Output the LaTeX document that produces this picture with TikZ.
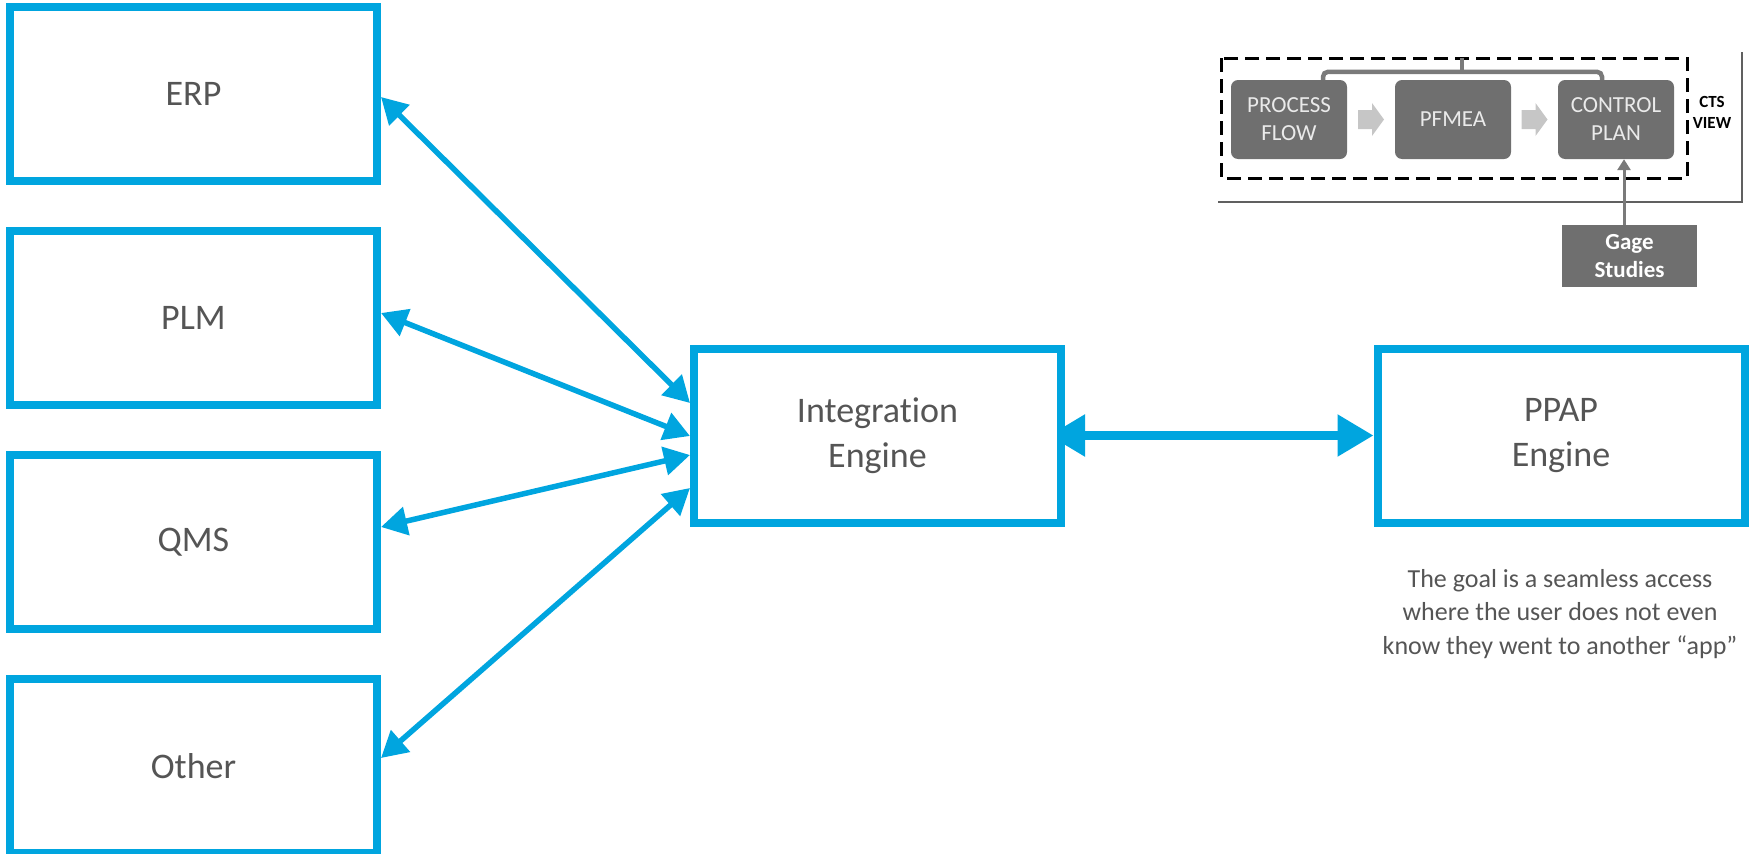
\documentclass[tikz,border=0pt]{standalone}
\usepackage{fontspec}
\setmainfont{Carlito}[Ligatures=NoCommon]
\usetikzlibrary{arrows.meta,calc,backgrounds}

\definecolor{sysblue}{HTML}{00A5DF}
\definecolor{labelgray}{HTML}{555555}
\definecolor{tilegray}{HTML}{6F6F6F}
\definecolor{tiletext}{HTML}{EAEAEA}
\definecolor{chevron}{HTML}{C6C6C6}
\definecolor{framegray}{HTML}{606060}
\definecolor{bracketgray}{HTML}{7A7A7A}

\begin{document}
\begin{tikzpicture}[x=1pt,y=-1pt,
  sysbox/.style={draw=sysblue, line width=8pt, fill=white,
    minimum width=367pt, minimum height=174pt, inner sep=0pt,
    text=labelgray, font=\fontsize{36}{45}\selectfont, align=center},
  link/.style={draw=sysblue, line width=5.5pt,
    {Triangle[length=26pt,width=28pt]}-{Triangle[length=26pt,width=28pt]}},
  mainlink/.style={draw=sysblue, line width=8.5pt,
    {Triangle[length=36pt,width=40pt]}-{Triangle[length=36pt,width=40pt]}},
  tile/.style={fill=tilegray, rounded corners=7pt,
    minimum width=116pt, minimum height=79pt, inner sep=0pt,
    text=tiletext, font=\fontsize{23}{28}\selectfont, align=center},
  gagebox/.style={fill=tilegray, minimum width=135pt, minimum height=62pt,
    inner sep=0pt, text=white, font=\bfseries\fontsize{23}{28}\selectfont,
    align=center},
  pics/chev/.style={code={
    \fill[chevron] (-13,-9.5) -- (1,-9.5) -- (1,-16.5) -- (13,0)
      -- (1,16.5) -- (1,9.5) -- (-13,9.5) -- cycle;}}
]
\useasboundingbox (0,0) rectangle (1754,854);

% source systems
\node[sysbox] (erp) at (193.5,94)  {ERP};
\node[sysbox] (plm) at (193.5,318) {PLM};
\node[sysbox] (qms) at (193.5,542) {QMS};
\node[sysbox] (oth) at (193.5,766) {Other};

% engines
\node[sysbox] (int)  at (877.5,435.5) {Integration\\Engine};
\node[sysbox] (ppap) at (1561,435.5)  {PPAP\\Engine};

% connectors sit behind the boxes
\begin{scope}[on background layer]
  \draw[link] ($(erp.east)+(0,3)$)   -- ($(int.west)+(0,-32.5)$);
  \draw[link] ($(plm.east)+(0,-5)$)  -- ($(int.west)+(0,0.5)$);
  \draw[link] ($(qms.east)+(0,-15)$) -- ($(int.west)+(0,19.5)$);
  \draw[link] ($(oth.east)+(0,-8)$)  -- ($(int.west)+(0,52.5)$);
  \draw[mainlink] ($(int.east)+(-16,0)$) -- (ppap.west);
\end{scope}

% note under the PPAP engine
\node[text=labelgray, font=\fontsize{26}{33.5}\selectfont, align=center]
  (goal) at (1560,614)
  {The goal is a seamless access\\where the user does not even\\know they went to another “app”};

% CTS view sketch
\draw[framegray, line width=2.5pt] (1218,202) -- (1742,202) -- (1742,52);
\draw[black, line width=3pt, dash pattern=on 14pt off 7pt]
  (1221,58) rectangle (1687,178);

\node[tile] (pf)   at (1289,119.5) {PROCESS\\FLOW};
\node[tile] (fmea) at (1453,119.5) {PFMEA};
\node[tile] (cp)   at (1616,119.5) {CONTROL\\PLAN};

\pic at ($(pf.east)!0.5!(fmea.west)$) {chev};
\pic at ($(fmea.east)!0.5!(cp.west)$) {chev};

\draw[bracketgray, line width=4.5pt, rounded corners=5pt]
  ($(pf.north)+(34,0)$) -- ($(pf.north)+(34,-8)$)
  -- ($(cp.north)+(-14,-8)$) -- ($(cp.north)+(-14,0)$);
\draw[bracketgray, line width=4.5pt]
  ($(fmea.north)+(9,-8)$) -- ($(fmea.north)+(9,-22)$);

\node[font=\bfseries\fontsize{17}{21}\selectfont, align=center]
  (cts) at (1712,112) {CTS\\VIEW};

\node[gagebox] (gage) at (1629.5,256) {Gage\\Studies};
\draw[bracketgray, line width=3pt, -{Triangle[length=11pt,width=13pt]}]
  ($(gage.north)+(-5.5,0)$) -- ($(cp.south)+(8,0)$);
\end{tikzpicture}
\end{document}
